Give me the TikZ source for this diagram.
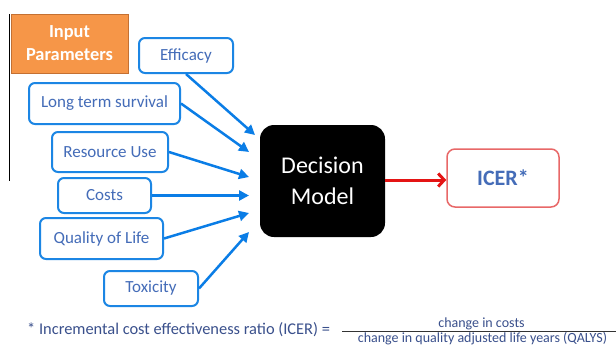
\documentclass[tikz,border=0pt]{standalone}
\usepackage{fontspec}
\setmainfont{Carlito}
\usetikzlibrary{arrows.meta}

\definecolor{boxblue}{RGB}{28,134,228}
\definecolor{arrblue}{RGB}{10,125,230}
\definecolor{labblue}{RGB}{68,108,184}
\definecolor{notegrey}{RGB}{58,80,140}
\definecolor{paramorange}{RGB}{246,150,72}
\definecolor{paramedge}{RGB}{196,112,50}
\definecolor{icerred}{RGB}{232,104,104}
\definecolor{outred}{RGB}{228,20,20}

\tikzset{
	param/.style={draw=boxblue, line width=2pt, rounded corners=6pt, text=labblue,
		inner sep=0pt, font=\fontsize{17}{20}\selectfont},
	feed/.style={draw=arrblue, line width=2.5pt, -{Triangle[length=10pt,width=10pt]}},
}

\begin{document}
\begin{tikzpicture}[x=1pt,y=-1pt]
	\useasboundingbox (0,0) rectangle (616,346);
	\fill[white] (0,0) rectangle (616,346);

	\draw[line width=1.2pt] (9.5,14) -- (9.5,181);

	\node[fill=paramorange, draw=paramedge, line width=1pt, minimum width=117pt, minimum height=59pt,
		inner sep=0pt, text=white, align=center, font=\bfseries\fontsize{18.4}{23}\selectfont] (inp) at (69.5,43.5) {Input\\Parameters};

	\node[param, minimum width=94pt, minimum height=35pt] (eff) at (186,55.5) {Efficacy};
	\node[param, minimum width=151pt, minimum height=41pt] (lts) at (104.5,103.5) {Long term survival};
	\node[param, minimum width=116pt, minimum height=40pt] (res) at (110,152) {Resource Use};
	\node[param, minimum width=93pt, minimum height=35pt] (cst) at (104.5,195.5) {Costs};
	\node[param, minimum width=123pt, minimum height=41pt] (qol) at (101.5,238.5) {Quality of Life};
	\node[param, minimum width=94pt, minimum height=35pt] (tox) at (151,288.5) {Toxicity};

	\node[fill=black, rounded corners=14pt, minimum width=125pt, minimum height=112pt, inner sep=0pt,
		text=white, align=center, font=\fontsize{24}{31}\selectfont] (dm) at (322.5,181) {Decision\\Model};

	\node[draw=icerred, line width=1.5pt, rounded corners=8pt, minimum width=112pt, minimum height=58pt,
		inner sep=0pt, text=labblue, font=\bfseries\fontsize{22}{26}\selectfont] (icer) at (503,178) {ICER*};

	% arrow heads into the model
	\coordinate (in1) at (255,135);
	\coordinate (in2) at (249,152);
	\coordinate (in3) at (249,177);
	\coordinate (in4) at (249,195.5);
	\coordinate (in5) at (249,213);
	\coordinate (in6) at (249,232);

	\draw[feed] (eff.south) -- (in1);
	\draw[feed] (lts.east) -- (in2);
	\draw[feed] (res.east) -- (in3);
	\draw[feed] (cst.east) -- (in4);
	\draw[feed] (qol.east) -- (in5);
	\draw[feed] (tox.east) -- (in6);

	\coordinate (out) at (385,180);
	\draw[draw=outred, line width=3pt, -{Straight Barb[length=6pt,width=13pt]}] (out) -- (icer.west |- out);

	% footnote
	\node[anchor=base west, inner sep=0pt, text=notegrey, font=\fontsize{16.4}{20}\selectfont] (note) at (27,334)
		{* Incremental cost effectiveness ratio (ICER) =};
	\node[anchor=base, inner sep=0pt, text=notegrey, font=\fontsize{14}{17}\selectfont] (num) at (481.5,327.5) {change in costs};
	\node[anchor=base, inner sep=0pt, text=notegrey, font=\fontsize{14}{17}\selectfont] (den) at (482.5,342)
		{change in quality adjusted life years (QALYS)};
	\draw[line width=1.2pt, draw=black!80] (342,331.5) -- (616,331.5);
\end{tikzpicture}
\end{document}
